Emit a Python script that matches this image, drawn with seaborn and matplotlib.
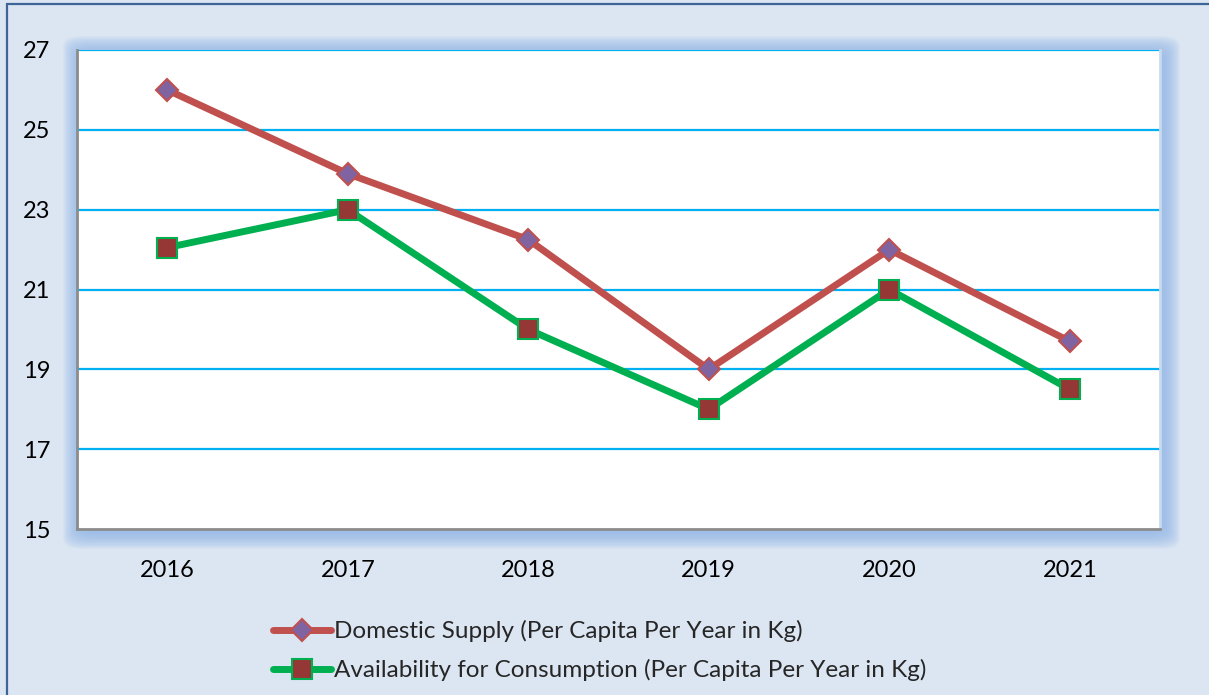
import matplotlib
matplotlib.use("Agg")
import matplotlib.pyplot as plt
from matplotlib.patches import Rectangle, FancyBboxPatch
import seaborn as sns
import pandas as pd

years = ["2016", "2017", "2018", "2019", "2020", "2021"]
domestic_supply = [26.0, 23.9, 22.25, 19.0, 22.0, 19.7]
availability = [22.05, 23.0, 20.0, 18.0, 21.0, 18.5]
y_ticks = [15, 17, 19, 21, 23, 25, 27]
label_supply = "Domestic Supply (Per Capita Per Year in Kg)"
label_avail = "Availability for Consumption (Per Capita Per Year in Kg)"

sns.set_theme(style="white")
plt.rcParams["font.family"] = ["Lato", "DejaVu Sans"]

W, H = 1209, 695
fig = plt.figure(figsize=(W / 100, H / 100), dpi=100)
fig.patch.set_facecolor("#dce6f2")

# outer frame of the chart area
fig.patches.append(Rectangle((7 / W, -0.1), 1.2, (H - 4) / H + 0.1,
                             transform=fig.transFigure, facecolor="none",
                             edgecolor="#3f6497", linewidth=1.6, zorder=0))

x0, x1, y0, y1 = 77, 1160, 50, 529
ax = fig.add_axes([x0 / W, (H - y1) / H, (x1 - x0) / W, (y1 - y0) / H])

# soft blue glow around the plot area
for i in range(12, 0, -1):
    pad = i * 1.4
    fig.patches.append(FancyBboxPatch(
        ((x0 - pad + 3) / W, (H - y1 - pad - 3) / H),
        (x1 - x0 + 2 * pad) / W, (y1 - y0 + 2 * pad) / H,
        boxstyle="round,pad=0,rounding_size=0.015",
        transform=fig.transFigure, facecolor="#8db4e8",
        edgecolor="none", alpha=0.10, zorder=0.5))

ax.set_facecolor("white")
ax.set_zorder(2)

df = pd.DataFrame({"year": years, "supply": domestic_supply, "avail": availability})
df["pos"] = range(len(years))

sns.lineplot(data=df, x="pos", y="supply", ax=ax, color="#c0504d", linewidth=5,
             marker="D", markersize=12, markerfacecolor="#8064a2",
             markeredgecolor="#c0504d", markeredgewidth=1.5, label=label_supply,
             zorder=4)
sns.lineplot(data=df, x="pos", y="avail", ax=ax, color="#00b050", linewidth=5,
             marker="s", markersize=16, markerfacecolor="#953735",
             markeredgecolor="#00b050", markeredgewidth=1.5, label=label_avail,
             zorder=5)

ax.set_xlim(-0.5, len(years) - 0.5)
ax.set_ylim(15, 27)
ax.set_yticks(y_ticks)
ax.set_xticks(df["pos"])
ax.set_xticklabels(years)
ax.set_xlabel("")
ax.set_ylabel("")
ax.grid(False)
for t in y_ticks[1:]:
    ax.axhline(t, color="#00b0f0", linewidth=1.6, zorder=1)

ax.tick_params(axis="y", labelsize=17, length=0, pad=19, colors="black")
ax.tick_params(axis="x", labelsize=17, length=0, pad=22, colors="black")

for s in ["left", "bottom"]:
    ax.spines[s].set_color("#8c8c8c")
    ax.spines[s].set_linewidth(2)
ax.spines["top"].set_visible(False)
ax.spines["right"].set_color("#c9d9ee")
ax.spines["right"].set_linewidth(2)

handles, labels = ax.get_legend_handles_labels()
for h in handles:
    h.set_markersize(h.get_markersize() * 0.9)
leg = ax.legend(handles, labels, loc="upper left",
                bbox_to_anchor=(273 / W, 1 - 620 / H),
                bbox_transform=fig.transFigure, frameon=False, fontsize=17.5,
                borderpad=0, borderaxespad=0,
                handlelength=2.4, handletextpad=0.1, labelspacing=0.7)

fig.savefig("out.png", dpi=100, facecolor=fig.get_facecolor())
